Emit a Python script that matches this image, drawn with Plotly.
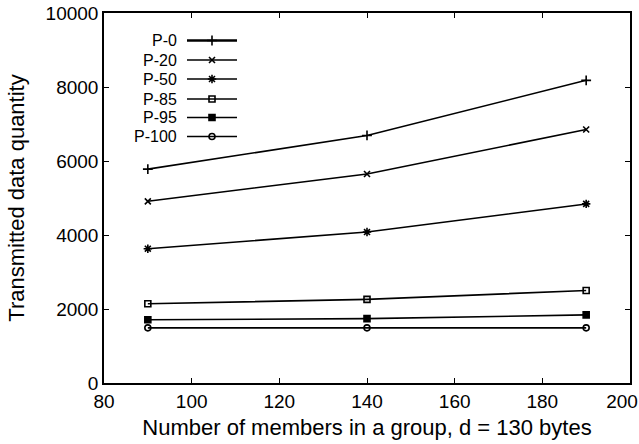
import plotly.graph_objects as go

members = [90, 140, 190]
series_names = ["P-0", "P-20", "P-50", "P-85", "P-95", "P-100"]
p0 = [5780, 6690, 8180]
p20 = [4910, 5650, 6850]
p50 = [3630, 4080, 4840]
p85 = [2140, 2260, 2500]
p95 = [1710, 1740, 1840]
p100 = [1490, 1490, 1490]
series_values = [p0, p20, p50, p85, p95, p100]

x_ticks = [80, 100, 120, 140, 160, 180, 200]
y_ticks = [0, 2000, 4000, 6000, 8000, 10000]

symbols = ["cross-thin-open", "x-thin-open", "asterisk-open", "square-open", "square", "circle-open"]
sizes = [7, 6, 7, 6, 6, 6]
legend_widths = [2.6, 1.6, 1.6, 1.6, 1.6, 1.6]

FONT = "Liberation Sans, Arial, sans-serif"
W, H = 639, 444
L, T = 104, 13
PW, PH = 526, 370
R, B = W - L - PW, H - T - PH

fig = go.Figure()
for name, vals, sym, sz in zip(series_names, series_values, symbols, sizes):
    fig.add_trace(go.Scatter(
        x=members, y=vals, mode="lines+markers", name=name,
        line=dict(color="black", width=1.6),
        marker=dict(symbol=sym, size=sz, color="black",
                    line=dict(color="black", width=1.6)),
        showlegend=False, xaxis="x", yaxis="y",
    ))

# manual legend (text on the left, sample on the right), in pixel space of an overlay axis
row_y = [PH - 27.5, PH - 47, PH - 66, PH - 86, PH - 104.5, PH - 123.5]
line_x0, line_x1, mark_x, text_x = 83, 133, 108, 75
for i, (name, sym, sz, lw) in enumerate(zip(series_names, symbols, sizes, legend_widths)):
    fig.add_trace(go.Scatter(
        x=[line_x0, line_x1], y=[row_y[i], row_y[i]], mode="lines",
        line=dict(color="black", width=lw), showlegend=False,
        xaxis="x2", yaxis="y2", hoverinfo="skip",
    ))
    fig.add_trace(go.Scatter(
        x=[mark_x], y=[row_y[i]], mode="markers",
        marker=dict(symbol=sym, size=sz, color="black", line=dict(color="black", width=1.6)),
        showlegend=False, xaxis="x2", yaxis="y2", hoverinfo="skip",
    ))
    fig.add_annotation(x=text_x, y=row_y[i], xref="x2", yref="y2", text=name,
                       showarrow=False, xanchor="right", yanchor="middle",
                       font=dict(family=FONT, size=16, color="black"))

tickfont = dict(family=FONT, size=19, color="black")
axis_common = dict(showgrid=False, zeroline=False, ticks="inside", ticklen=5,
                   tickwidth=1, tickcolor="black", showline=True, linecolor="black",
                   linewidth=1.5, mirror="ticks", ticklabeloverflow="allow",
                   automargin=False, tickfont=tickfont)

# last x tick label is drawn by an overlay axis so it can be nudged inside the page
x_ticktext = [str(v) for v in x_ticks[:-1]] + [""]

fig.update_layout(
    width=W, height=H,
    margin=dict(l=L, r=R, t=T, b=B, autoexpand=False),
    paper_bgcolor="white", plot_bgcolor="white",
    xaxis=dict(range=[80, 200], tickvals=x_ticks, ticktext=x_ticktext, title=dict(
        text="Number of members in a group, d = 130 bytes",
        font=dict(family=FONT, size=22, color="black"), standoff=9), **axis_common),
    yaxis=dict(range=[0, 10000], tickvals=y_ticks, tickformat="d", title=dict(
        text="Transmitted data quantity",
        font=dict(family=FONT, size=22, color="black"), standoff=15), **axis_common),
    xaxis3=dict(range=[80, 200], overlaying="x", anchor="y", side="bottom",
                tickvals=x_ticks[-1:], ticktext=[str(x_ticks[-1])],
                ticklabelshift=-8, ticklabelstandoff=5, ticklabeloverflow="allow",
                automargin=False, showgrid=False, zeroline=False, showline=False,
                ticks="inside", ticklen=5, tickcolor="rgba(0,0,0,0)",
                tickfont=tickfont, fixedrange=True),
    xaxis2=dict(range=[0, PW], overlaying="x", visible=False, fixedrange=True),
    yaxis2=dict(range=[0, PH], overlaying="y", visible=False, fixedrange=True),
    showlegend=False,
)
# invisible trace so the overlay axis for the last label is drawn
fig.add_trace(go.Scatter(x=[x_ticks[-1]], y=[None], mode="markers", xaxis="x3", yaxis="y",
                         showlegend=False, hoverinfo="skip"))

fig.write_html("out.html", config={"displayModeBar": False},
               post_script="document.body.style.margin='0';")
